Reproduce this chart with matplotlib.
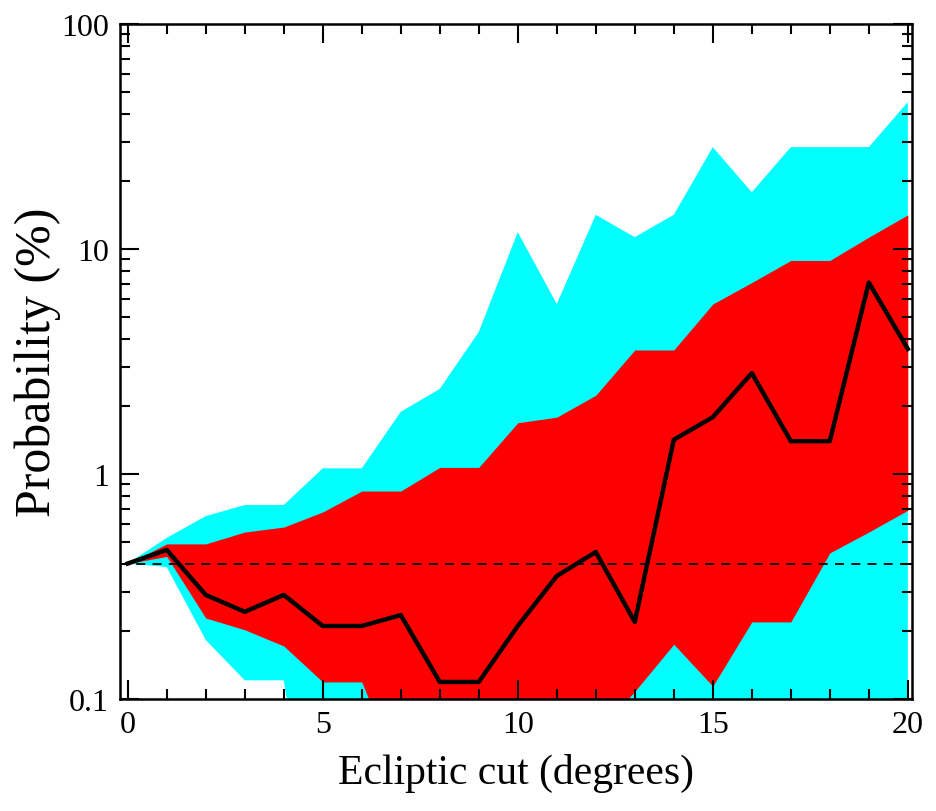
import numpy as np
import matplotlib
matplotlib.use("Agg")
import matplotlib.pyplot as plt
from matplotlib.ticker import LogLocator, FixedLocator, NullFormatter

plt.rcParams['font.family'] = ['Liberation Serif', 'DejaVu Serif']

# ecliptic cut in degrees
cut = [0, 1, 2, 3, 4, 5, 6, 7, 8, 9, 10, 11, 12, 13, 14, 15, 16, 17, 18, 19, 20]

# median probability (%)
median = [0.40, 0.46, 0.29, 0.244, 0.29, 0.211, 0.211, 0.236, 0.119, 0.119, 0.211,
          0.352, 0.45, 0.22, 1.42, 1.79, 2.81, 1.40, 1.40, 7.1, 3.6]

# inner (red) band
red_hi = [0.40, 0.489, 0.489, 0.552, 0.581, 0.678, 0.84, 0.84, 1.07, 1.07, 1.69,
          1.79, 2.24, 3.56, 3.56, 5.7, 7.1, 8.9, 8.9, 11.3, 14.2]
red_lo = [0.40, 0.43, 0.229, 0.203, 0.172, 0.119, 0.119, 0.045, 0.03, 0.03, 0.03,
          0.04, 0.07, 0.108, 0.175, 0.114, 0.22, 0.22, 0.446, 0.552, 0.69]

# outer (cyan) band
cyan_hi = [0.40, 0.52, 0.65, 0.728, 0.728, 1.06, 1.06, 1.89, 2.39, 4.28, 11.9,
           5.7, 14.2, 11.3, 14.2, 28.4, 17.9, 28.4, 28.4, 28.4, 45.0]
cyan_lo = [0.40, 0.386, 0.183, 0.121, 0.121, 0.01, 0.01, 0.01, 0.01, 0.01, 0.01,
           0.01, 0.01, 0.01, 0.01, 0.01, 0.01, 0.01, 0.01, 0.01, 0.01]

baseline = 0.4

fig = plt.figure(figsize=(9.37, 8.12), dpi=100)
ax = fig.add_axes([0.128, 0.138, 0.845, 0.831])

ax.fill_between(cut, cyan_lo, cyan_hi, color='#00ffff', linewidth=0)
ax.fill_between(cut, red_lo, red_hi, color='#ff0000', linewidth=0)
ax.axhline(baseline, color='black', linestyle=(0, (5, 4)), linewidth=1.3)
ax.plot(cut, median, color='black', linewidth=3.2)

ax.set_yscale('log')
ax.set_xlim(-0.2, 20.1)
ax.set_ylim(0.1, 100)

ax.xaxis.set_major_locator(FixedLocator([0, 5, 10, 15, 20]))
ax.xaxis.set_minor_locator(FixedLocator(range(0, 21)))
ax.yaxis.set_major_locator(FixedLocator([0.1, 1, 10, 100]))
ax.yaxis.set_minor_locator(LogLocator(base=10, subs=np.arange(2, 10)))
ax.yaxis.set_minor_formatter(NullFormatter())
ax.set_yticklabels(['0.1', '1', '10', '100'])

ax.tick_params(which='both', direction='in', top=True, right=True, width=1.5,
               labelsize=23, pad=8)
ax.tick_params(which='major', length=14)
ax.tick_params(which='minor', length=7)
for sp in ax.spines.values():
    sp.set_linewidth(1.8)

ax.set_xlabel('Ecliptic cut (degrees)', fontsize=30, labelpad=10)
ax.set_ylabel('Probability (%)', fontsize=36, labelpad=0)

fig.savefig('out.png', dpi=100)
